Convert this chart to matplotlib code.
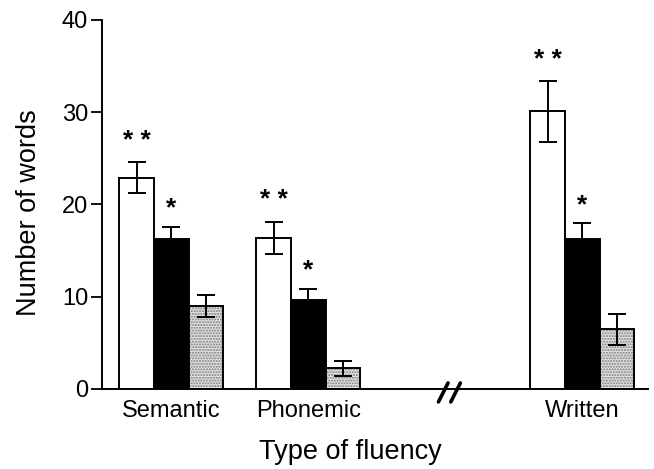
import matplotlib
matplotlib.use("Agg")
import matplotlib.pyplot as plt
import numpy as np

plt.rcParams['font.family'] = ['Liberation Sans', 'DejaVu Sans']

# data
groups = ["Semantic", "Phonemic", "Written"]
group_pos = [0, 1, 3]          # gap at 2 for the axis break
white_vals = [22.9, 16.4, 30.1]
white_err = [1.65, 1.75, 3.3]
black_vals = [16.3, 9.65, 16.3]
black_err = [1.3, 1.2, 1.65]
gray_vals = [9.0, 2.25, 6.5]
gray_err = [1.15, 0.83, 1.68]
white_stars = ["* *", "* *", "* *"]
black_stars = ["*", "*", "*"]

w = 0.253
x = np.array(group_pos, dtype=float)

fig = plt.figure(figsize=(6.54, 4.69), dpi=100)
ax = fig.add_axes([0.156, 0.1706, 0.835, 0.787])

ekw = dict(fmt="none", ecolor="black", elinewidth=1.4, capsize=6.5, capthick=1.4, zorder=4)

# white bars
ax.bar(x - w, white_vals, w, color="white", edgecolor="black", linewidth=1.4, zorder=2)
ax.errorbar(x - w, white_vals, yerr=white_err, **ekw)
# black bars
ax.bar(x, black_vals, w, color="black", edgecolor="black", linewidth=1.4, zorder=2)
ax.errorbar(x, black_vals, yerr=black_err, **ekw)
# stippled bars (hatch layer then outline)
ax.bar(x + w, gray_vals, w, color="#e2e2e2", edgecolor="#7a7a7a", hatch="......", linewidth=0, zorder=2)
ax.bar(x + w, gray_vals, w, color="none", edgecolor="black", linewidth=1.4, zorder=3)
ax.errorbar(x + w, gray_vals, yerr=gray_err, **ekw)

# significance stars
for i in range(len(x)):
    ax.text(x[i] - w, white_vals[i] + white_err[i] + 2.3, white_stars[i], ha="center", va="center",
            fontsize=19, fontweight="bold")
    ax.text(x[i], black_vals[i] + black_err[i] + 2.0, black_stars[i], ha="center", va="center",
            fontsize=19, fontweight="bold")

ax.set_xlim(-0.505, 3.48)
ax.set_ylim(0, 40)
ax.set_yticks([0, 10, 20, 30, 40])
ax.set_xticks(x)
ax.set_xticklabels(groups, fontsize=17)
ax.tick_params(axis="x", length=0, pad=8)
ax.tick_params(axis="y", direction="out", length=8, width=1.3, labelsize=17, pad=2)

for s in ["top", "right"]:
    ax.spines[s].set_visible(False)
for s in ["left", "bottom"]:
    ax.spines[s].set_linewidth(1.4)

# axis break mark
bx = 2.03
for dx in [-0.045, 0.045]:
    ax.plot([bx + dx - 0.035, bx + dx + 0.035], [-1.4, 0.65], color="black", lw=2.6,
            clip_on=False, zorder=5, solid_capstyle="round")

ax.set_xlabel("Type of fluency", fontsize=19.5)
ax.xaxis.set_label_coords(0.455, -0.135)
ax.set_ylabel("Number of words", fontsize=19.5)
ax.yaxis.set_label_coords(-0.11, 0.477)

plt.savefig("out.png", dpi=100)
